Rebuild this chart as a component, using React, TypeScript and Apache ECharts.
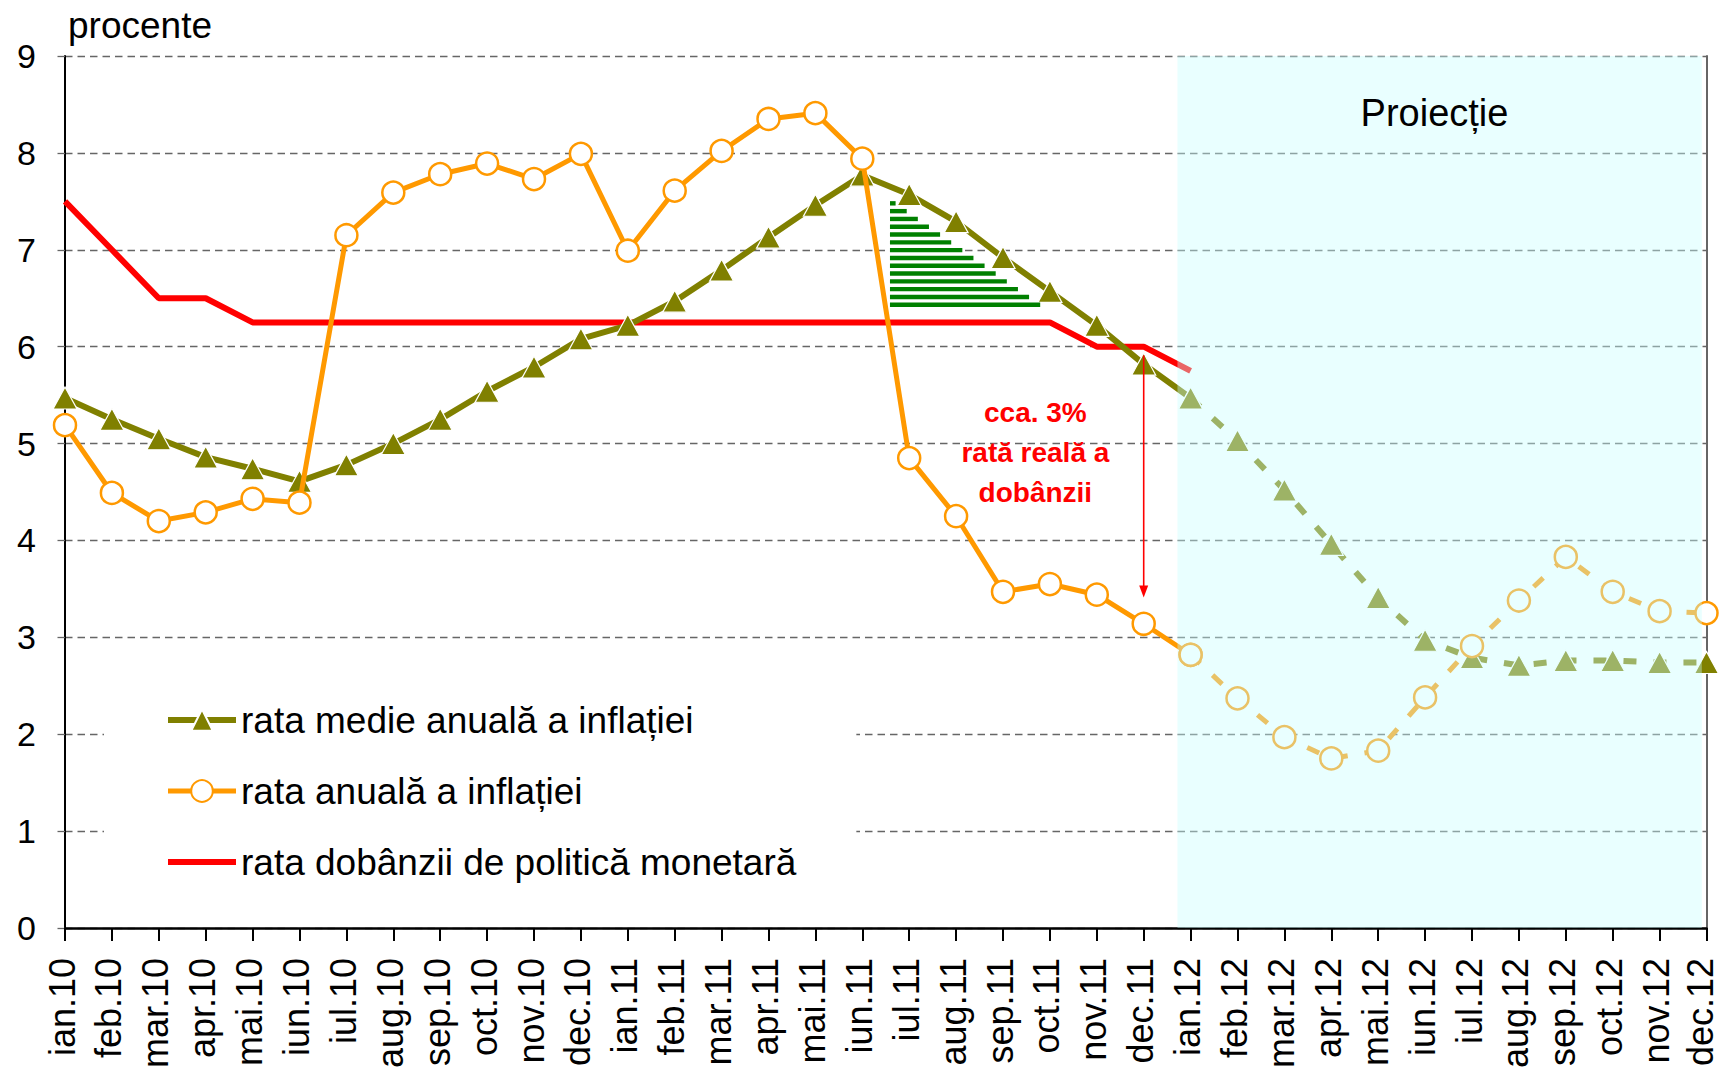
import React, { useEffect, useRef } from "react";
import * as echarts from "echarts";

const FONT = '"Liberation Sans", Arial, sans-serif';

const months = [
  "ian.10", "feb.10", "mar.10", "apr.10", "mai.10", "iun.10", "iul.10", "aug.10", "sep.10", "oct.10", "nov.10", "dec.10",
  "ian.11", "feb.11", "mar.11", "apr.11", "mai.11", "iun.11", "iul.11", "aug.11", "sep.11", "oct.11", "nov.11", "dec.11",
  "ian.12", "feb.12", "mar.12", "apr.12", "mai.12", "iun.12", "iul.12", "aug.12", "sep.12", "oct.12", "nov.12", "dec.12",
];

const avgInflation = [
  5.47, 5.25, 5.05, 4.86, 4.74, 4.61, 4.78, 5.0, 5.25, 5.54, 5.79, 6.08,
  6.22, 6.47, 6.79, 7.13, 7.46, 7.77, 7.57, 7.29, 6.92, 6.57, 6.22, 5.82,
  5.47, 5.03, 4.52, 3.96, 3.41, 2.97, 2.79, 2.71, 2.76, 2.76, 2.74, 2.74,
];

const annualInflation = [
  5.19, 4.49, 4.2, 4.29, 4.43, 4.39, 7.15, 7.59, 7.78, 7.89, 7.73, 7.99,
  6.99, 7.61, 8.02, 8.35, 8.41, 7.94, 4.85, 4.25, 3.47, 3.55, 3.44, 3.14,
  2.82, 2.37, 1.97, 1.75, 1.83, 2.38, 2.91, 3.38, 3.83, 3.47, 3.27, 3.25,
];

const policyRate = [
  7.5, 7.0, 6.5, 6.5, 6.25, 6.25, 6.25, 6.25, 6.25, 6.25, 6.25, 6.25,
  6.25, 6.25, 6.25, 6.25, 6.25, 6.25, 6.25, 6.25, 6.25, 6.25, 6.0, 6.0,
  5.75,
];

const yTicks = [0, 1, 2, 3, 4, 5, 6, 7, 8, 9];

const NAME_AVG = "rata medie anuală a inflației";
const NAME_ANNUAL = "rata anuală a inflației";
const NAME_RATE = "rata dobânzii de politică monetară";

// index of first projected month (ian.12)
const projFirst = 24;
// projection shaded band [from, to] on the month axis
const projBand = [23.72, 34.9];
const projLabel = { text: "Proiecție", x: 29.2, y: 8.41 };

// hatched triangle: [xLeft, yTop, yBottom, xRight]
const hatchTriangle = [17.59, 7.52, 6.41, 20.86];

// annotation
const noteText = { text: "cca. 3%\nrată reală a\ndobânzii", x: 20.69, y: 4.91 };
const arrow = { x: 23, from: 5.91, to: 3.41 };

const pairs = (arr: number[], from: number, to: number) =>
  arr.slice(from, to + 1).map((v, i) => [from + i, v]);

const App: React.FC = () => {
  const ref = useRef<HTMLDivElement>(null);

  useEffect(() => {
    if (!ref.current) return;
    const chart = echarts.init(ref.current, undefined, { renderer: "svg" });

    const olive = "#808000";
    const orange = "#FF9900";
    const red = "#FF0000";
    const dash = [13, 17];

    const oliveBase = {
      type: "line",
      symbol: "triangle",
      symbolSize: [24, 22],
      itemStyle: { color: olive, borderColor: "#fff", borderWidth: 1.2 },
      z: 3,
      silent: true,
    };
    const orangeBase = {
      type: "line",
      symbol: "circle",
      symbolSize: 22,
      itemStyle: { color: "#fff", borderColor: orange, borderWidth: 2.5 },
      z: 4,
      silent: true,
    };

    const lastIdx = months.length - 1;

    const option: any = {
      animation: false,
      backgroundColor: "#fff",
      textStyle: { fontFamily: FONT },
      grid: { left: 65, right: 14.5, top: 56, bottom: 150, outerBoundsMode: "none", containLabel: false },
      legend: {
        data: [
          { name: NAME_AVG, lineStyle: { width: 6, color: olive } },
          { name: NAME_ANNUAL, lineStyle: { width: 5, color: orange } },
          { name: NAME_RATE, icon: "path://M0 0H68V6H0Z", itemStyle: { color: red } },
        ],
        orient: "vertical",
        left: 104,
        top: 675,
        padding: [25, 60, 25, 61],
        backgroundColor: "#fff",
        itemWidth: 68,
        itemHeight: 27,
        itemGap: 31,
        symbolKeepAspect: true,
        selectedMode: false,
        lineStyle: { width: 6 },
        textStyle: { fontSize: 37, color: "#000", fontFamily: FONT, lineHeight: 40 },
      },
      graphic: [
        {
          type: "text",
          left: 68,
          top: 7,
          style: { text: "procente", font: `37px ${FONT}`, fill: "#000" },
        },
      ],
      xAxis: {
        type: "value",
        min: 0,
        max: lastIdx,
        interval: 1,
        axisLine: { show: true, onZero: false, lineStyle: { color: "#000", width: 2.5 } },
        axisTick: { show: true, length: 13, lineStyle: { color: "#000", width: 2 } },
        axisLabel: {
          rotate: 90,
          margin: 30,
          fontSize: 36,
          color: "#000",
          fontFamily: FONT,
          padding: [0, 0, 6, 0],
          showMinLabel: true,
          showMaxLabel: true,
          formatter: (v: number) => {
            const i = Math.round(v);
            const t = months[i] ?? "";
            return i === lastIdx ? `{last|${t}}` : t;
          },
          rich: {
            last: { fontSize: 36, color: "#000", fontFamily: FONT, padding: [0, 0, 6, 0] },
          },
        },
        splitLine: { show: false },
      },
      yAxis: [
        {
          type: "value",
          min: yTicks[0],
          max: yTicks[yTicks.length - 1],
          interval: 1,
          axisLine: { show: true, onZero: false, lineStyle: { color: "#000", width: 2 } },
          axisTick: { show: true, length: 12, lineStyle: { color: "#666", width: 1.3, type: [7.5, 5] } },
          axisLabel: { fontSize: 34, color: "#000", margin: 29, fontFamily: FONT, showMinLabel: true, showMaxLabel: true },
          splitLine: { show: true, lineStyle: { color: "#666", width: 1.3, type: [7.5, 5] } },
        },
        {
          type: "value",
          position: "right",
          min: yTicks[0],
          max: yTicks[yTicks.length - 1],
          interval: 1,
          axisLine: { show: true, onZero: false, lineStyle: { color: "#666", width: 2 } },
          axisTick: { show: false },
          axisLabel: { show: false },
          splitLine: { show: false },
        },
      ],
      series: [
        {
          name: NAME_RATE,
          type: "line",
          symbol: "none",
          data: pairs(policyRate, 0, policyRate.length - 1),
          lineStyle: { color: red, width: 6 },
          itemStyle: { color: red },
          z: 2,
          silent: true,
        },
        {
          ...oliveBase,
          name: NAME_AVG,
          data: pairs(avgInflation, 0, projFirst),
          lineStyle: { color: olive, width: 6 },
        },
        {
          ...oliveBase,
          name: NAME_AVG + " (proiecție)",
          data: pairs(avgInflation, projFirst, lastIdx),
          lineStyle: { color: olive, width: 6, type: dash },
        },
        {
          ...orangeBase,
          name: NAME_ANNUAL,
          data: pairs(annualInflation, 0, projFirst),
          lineStyle: { color: orange, width: 5 },
        },
        {
          ...orangeBase,
          name: NAME_ANNUAL + " (proiecție)",
          data: pairs(annualInflation, projFirst, lastIdx),
          lineStyle: { color: orange, width: 5, type: dash },
        },
        {
          type: "custom",
          name: "hatch",
          z: 5,
          silent: true,
          data: [hatchTriangle],
          encode: { x: [0, 3], y: [1, 2] },
          renderItem: (_params: any, api: any) => {
            const tl = api.coord([api.value(0), api.value(1)]);
            const br = api.coord([api.value(3), api.value(2)]);
            const xl = tl[0], yt = tl[1], xr = br[0], yb = br[1];
            const step = 7.8;
            const thick = 4.4;
            const children: any[] = [];
            for (let y = yb; y - thick >= yt - 2; y -= step) {
              const yc = y - thick / 2;
              const xh = xl + ((yc - yt) / (yb - yt)) * (xr - xl);
              if (xh - xl < 1) continue;
              children.push({
                type: "rect",
                shape: { x: xl, y: y - thick, width: xh - xl, height: thick },
                style: { fill: "#008000" },
              });
            }
            return { type: "group", children };
          },
        },
        {
          type: "custom",
          name: "projection",
          z: 10,
          silent: true,
          data: [[projBand[0], projBand[1], yTicks[0], yTicks[yTicks.length - 1]]],
          encode: { x: [0, 1], y: [2, 3] },
          renderItem: (_params: any, api: any) => {
            const p0 = api.coord([api.value(0), api.value(3)]);
            const p1 = api.coord([api.value(1), api.value(2)]);
            const c = api.coord([projLabel.x, projLabel.y]);
            return {
              type: "group",
              children: [
                {
                  type: "rect",
                  shape: { x: p0[0], y: p0[1], width: p1[0] - p0[0], height: p1[1] - p0[1] },
                  style: { fill: "rgba(200,255,255,0.4)" },
                },
                {
                  type: "text",
                  x: c[0],
                  y: c[1],
                  style: {
                    text: projLabel.text,
                    fill: "#000",
                    font: `38px ${FONT}`,
                    align: "center",
                    verticalAlign: "middle",
                  },
                },
              ],
            };
          },
        },
        {
          type: "custom",
          name: "note",
          z: 11,
          silent: true,
          data: [[noteText.x, noteText.y, arrow.x, arrow.from, arrow.to]],
          encode: { x: [0, 2], y: [1, 3, 4] },
          renderItem: (_params: any, api: any) => {
            const t = api.coord([api.value(0), api.value(1)]);
            const a0 = api.coord([api.value(2), api.value(3)]);
            const a1 = api.coord([api.value(2), api.value(4)]);
            const headLen = 12;
            const headHalf = 4.5;
            return {
              type: "group",
              children: [
                {
                  type: "text",
                  x: t[0],
                  y: t[1],
                  style: {
                    text: noteText.text,
                    fill: red,
                    font: `bold 28px ${FONT}`,
                    align: "center",
                    verticalAlign: "middle",
                    lineHeight: 40,
                  },
                },
                {
                  type: "line",
                  shape: { x1: a0[0], y1: a0[1], x2: a1[0], y2: a1[1] - headLen + 1 },
                  style: { stroke: red, lineWidth: 1.6 },
                },
                {
                  type: "polygon",
                  shape: {
                    points: [
                      [a1[0] - headHalf, a1[1] - headLen],
                      [a1[0] + headHalf, a1[1] - headLen],
                      [a1[0], a1[1]],
                    ],
                  },
                  style: { fill: red },
                },
              ],
            };
          },
        },
      ],
    };

    chart.setOption(option);
    return () => chart.dispose();
  }, []);

  return (
    <div
      ref={ref}
      style={{ position: "fixed", left: 0, top: 0, width: 1721, height: 1078, background: "#fff" }}
    />
  );
};

export default App;
